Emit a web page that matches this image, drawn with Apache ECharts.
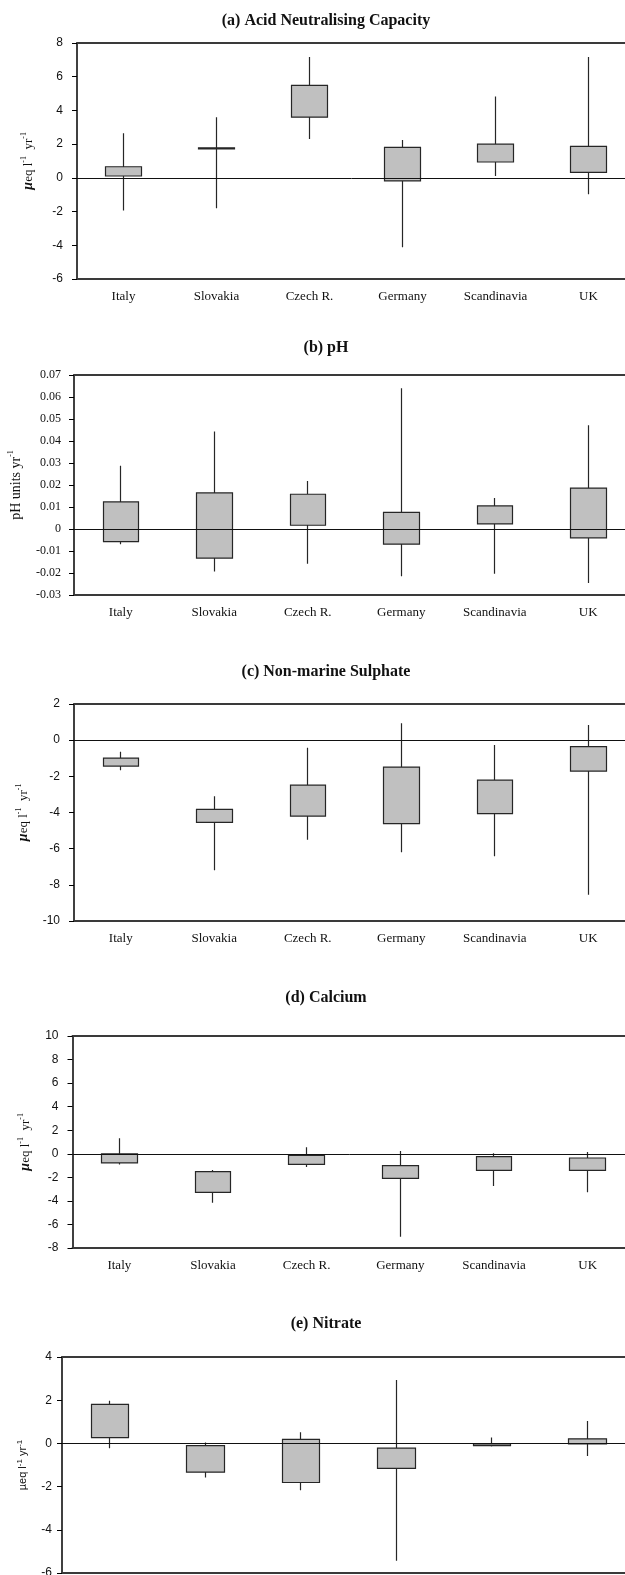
<!DOCTYPE html>
<html>
<head>
<meta charset="utf-8">
<script src="https://cdn.jsdelivr.net/npm/echarts@6/dist/echarts.min.js"></script>
<style>
html,body{margin:0;padding:0;background:#fff;}
#chart{width:625px;height:1575px;}
</style>
</head>
<body>
<div id="chart"></div>
<script>
// ---------- DATA ----------
const categories = ['Italy', 'Slovakia', 'Czech R.', 'Germany', 'Scandinavia', 'UK'];

const titles = ['(a) Acid Neutralising Capacity', '(b) pH', '(c) Non-marine Sulphate', '(d) Calcium', '(e) Nitrate'];

// (a) Acid Neutralising Capacity
const ancHigh = [2.64, 3.6, 7.17, 2.24, 4.82, 7.17];
const ancQ3   = [0.66, 1.78, 5.49, 1.81, 2.0, 1.87];
const ancQ1   = [0.11, 1.72, 3.6, -0.18, 0.94, 0.33];
const ancLow  = [-1.94, -1.8, 2.3, -4.12, 0.11, -0.97];

// (b) pH
const phHigh = [0.0288, 0.0443, 0.0218, 0.0640, 0.0141, 0.0472];
const phQ3   = [0.0123, 0.0164, 0.0158, 0.0076, 0.0105, 0.0186];
const phQ1   = [-0.0057, -0.0132, 0.0017, -0.0069, 0.0023, -0.0040];
const phLow  = [-0.0069, -0.0193, -0.0158, -0.0215, -0.0203, -0.0246];

// (c) Non-marine Sulphate
const so4High = [-0.64, -3.1, -0.42, 0.93, -0.27, 0.84];
const so4Q3   = [-0.99, -3.83, -2.49, -1.49, -2.21, -0.36];
const so4Q1   = [-1.43, -4.55, -4.2, -4.61, -4.06, -1.71];
const so4Low  = [-1.66, -7.19, -5.5, -6.2, -6.42, -8.55];

// (d) Calcium
const caHigh = [1.31, -1.38, 0.55, 0.23, 0.05, 0.15];
const caQ3   = [0.0, -1.52, -0.13, -1.01, -0.25, -0.36];
const caQ1   = [-0.78, -3.27, -0.9, -2.08, -1.41, -1.41];
const caLow  = [-0.9, -4.15, -1.12, -7.05, -2.74, -3.27];

// (e) Nitrate
const no3High = [1.98, 0.04, 0.52, 2.94, 0.27, 1.04];
const no3Q3   = [1.81, -0.1, 0.19, -0.22, -0.02, 0.21];
const no3Q1   = [0.27, -1.33, -1.81, -1.16, -0.1, -0.02];
const no3Low  = [-0.22, -1.58, -2.17, -5.43, -0.14, -0.58];

// y-axis ranges: [min, max, interval]
const yRanges = [[-6, 8, 2], [-0.03, 0.07, 0.01], [-10, 2, 2], [-8, 10, 2], [-6, 4, 2]];

const seriesSets = [
  [ancQ1, ancQ3, ancLow, ancHigh],
  [phQ1, phQ3, phLow, phHigh],
  [so4Q1, so4Q3, so4Low, so4High],
  [caQ1, caQ3, caLow, caHigh],
  [no3Q1, no3Q3, no3Low, no3High]
];

// ---------- LAYOUT / STYLE ----------
const SERIF = '"Liberation Serif", "Times New Roman", serif';
const SANS = '"Liberation Sans", Arial, sans-serif';

const layouts = [
  {left: 77, top: 43, width: 558, height: 236, titleY: 21, boxW: 36, tickFont: SANS, tickSize: 12, tickMargin: 14,
   nameType: 'ueq', nameFont: SERIF, nameSize: 13, nameGap: 40},
  {left: 74, top: 375, width: 561, height: 220, titleY: 348, boxW: 36, tickFont: SERIF, tickSize: 12, tickMargin: 13,
   nameType: 'ph', nameFont: SERIF, nameSize: 14, nameGap: 38},
  {left: 74, top: 704, width: 561, height: 217, titleY: 672, boxW: 36, tickFont: SANS, tickSize: 12, tickMargin: 14,
   nameType: 'ueq', nameFont: SERIF, nameSize: 13, nameGap: 40},
  {left: 72.5, top: 1036, width: 562, height: 212, titleY: 998, boxW: 36, tickFont: SANS, tickSize: 12, tickMargin: 14,
   nameType: 'ueq', nameFont: SERIF, nameSize: 13, nameGap: 38},
  {left: 62, top: 1357, width: 573, height: 216, titleY: 1324, boxW: 38, tickFont: SANS, tickSize: 12, tickMargin: 10,
   nameType: 'ueq2', nameFont: SANS, nameSize: 11, nameGap: 31}
];

function axisName(type) {
  if (type === 'ph') return 'pH units yr{s|-1}';
  if (type === 'ueq2') return 'µeq l{s|-1} yr{s|-1}';
  return '{m|µ}eq l{s|-1}  yr{s|-1}';
}

const grids = [], xAxes = [], yAxes = [], series = [], graphics = [];

layouts.forEach((L, i) => {
  grids.push({left: L.left, top: L.top, width: L.width, height: L.height, containLabel: false, outerBoundsMode: 'none'});
  // bottom category axis
  xAxes.push({
    type: 'category', gridIndex: i, data: categories, position: 'bottom',
    axisLine: {show: true, onZero: false, lineStyle: {color: '#3a3a3a', width: 2}},
    axisTick: {show: false},
    axisLabel: {show: i < 4, margin: 11, color: '#111', fontFamily: SERIF, fontSize: 13},
    splitLine: {show: false}
  });
  // top border axis
  xAxes.push({
    type: 'category', gridIndex: i, data: categories, position: 'top',
    axisLine: {show: true, onZero: false, lineStyle: {color: '#3a3a3a', width: 2}},
    axisTick: {show: false}, axisLabel: {show: false}, splitLine: {show: false}
  });
  const r = yRanges[i];
  yAxes.push({
    type: 'value', gridIndex: i, min: r[0], max: r[1], interval: r[2],
    axisLine: {show: true, lineStyle: {color: '#000', width: 1.5}},
    axisTick: {show: true, inside: false, length: 5, lineStyle: {color: '#000', width: 1}},
    axisLabel: {margin: L.tickMargin, color: '#111', fontFamily: L.tickFont, fontSize: L.tickSize},
    splitLine: {show: false},
    name: axisName(L.nameType),
    nameLocation: 'middle', nameGap: L.nameGap,
    nameTextStyle: {
      fontFamily: L.nameFont, fontSize: L.nameSize, color: '#111', lineHeight: L.nameSize + 4,
      rich: {
        s: {fontFamily: L.nameFont, fontSize: 8, verticalAlign: 'top', lineHeight: L.nameSize + 4, color: '#111'},
        m: {fontFamily: SERIF, fontSize: L.nameSize + 1, fontWeight: 'bold', fontStyle: 'italic', color: '#111', lineHeight: L.nameSize + 4}
      }
    }
  });
  const [q1, q3, lo, hi] = seriesSets[i];
  series.push({
    type: 'candlestick', xAxisIndex: i * 2, yAxisIndex: i,
    barWidth: L.boxW,
    data: categories.map((c, k) => [q1[k], q3[k], lo[k], hi[k]]),
    itemStyle: {
      color: '#c0c0c0', color0: '#c0c0c0',
      borderColor: '#262626', borderColor0: '#262626', borderColorDoji: '#262626',
      borderWidth: 1.2
    },
    emphasis: {disabled: true},
    silent: true,
    markLine: {
      silent: true, symbol: ['none', 'none'], animation: false,
      label: {show: false},
      lineStyle: {color: '#111', width: 1, type: 'solid'},
      data: [{yAxis: 0}]
    },
    z: 3
  });
  graphics.push({
    type: 'text', x: 326, y: L.titleY,
    style: {
      text: titles[i], fill: '#111',
      font: 'bold 16px "Liberation Serif", "Times New Roman", serif',
      align: 'center', verticalAlign: 'middle',
      textAlign: 'center', textVerticalAlign: 'middle'
    }
  });
});

const chart = echarts.init(document.getElementById('chart'), null, {renderer: 'canvas'});
chart.setOption({
  animation: false,
  backgroundColor: '#fff',
  grid: grids,
  xAxis: xAxes,
  yAxis: yAxes,
  series: series,
  graphic: graphics
});
</script>
</body>
</html>
